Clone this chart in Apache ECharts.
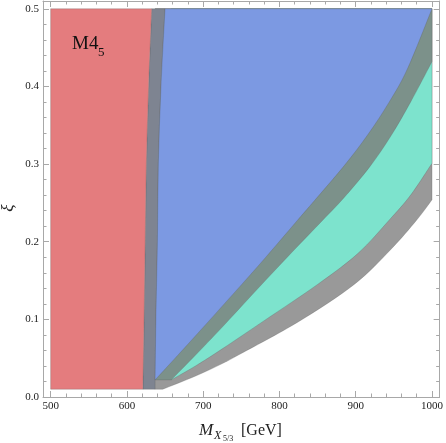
<!DOCTYPE html>
<html>
<head>
<meta charset="utf-8">
<script src="https://cdn.jsdelivr.net/npm/echarts@6/dist/echarts.min.js"></script>
<style>
  html, body { margin: 0; padding: 0; background: #fff; }
  #chart { width: 446px; height: 443px; }
</style>
</head>
<body>
<div id="chart"></div>
<script>
// tick positions
const xMajor = [500, 600, 700, 800, 900, 1000]
const xMinor = [520, 540, 560, 580, 620, 640, 660, 680, 720, 740, 760, 780, 820, 840, 860, 880, 920, 940, 960, 980]
const yMajor = [0, 0.1, 0.2, 0.3, 0.4, 0.5]
const yMinor = [0.02, 0.04, 0.06, 0.08, 0.12, 0.14, 0.16, 0.18, 0.22, 0.24, 0.26, 0.28, 0.32, 0.34, 0.36, 0.38, 0.42, 0.44, 0.46, 0.48]

// region boundaries, [M (GeV), xi]
const redEdge = [[621, 0.01], [622.5, 0.1], [624, 0.2], [625.5, 0.3], [628.5, 0.4], [632.5, 0.5]]
const blueLeft = [[637, 0.022], [638, 0.1], [640, 0.2], [641.2, 0.3], [644.7, 0.4], [650, 0.5]]
const blueRight = [[637, 0.022], [680, 0.068], [725, 0.117], [775, 0.172], [824, 0.228], [846, 0.253], [885, 0.298], [916, 0.338], [944, 0.38], [968, 0.423], [1000, 0.5]]
const cyanTop = [[658, 0.022], [690, 0.054], [725, 0.09], [772, 0.14], [816, 0.186], [857, 0.228], [884, 0.256], [918, 0.296], [946, 0.336], [972, 0.38], [1000, 0.432]]
const cyanBottom = [[658, 0.022], [690, 0.04], [725, 0.062], [781, 0.099], [850, 0.145], [903, 0.185], [944, 0.228], [972, 0.26], [1000, 0.301]]
const grayBottom = [[647, 0.01], [690, 0.027], [725, 0.043], [746, 0.054], [825, 0.097], [898, 0.145], [946, 0.19], [980, 0.228], [1000, 0.254]]

const rev = (a) => a.slice().reverse()
const S = (pts) => ({ pts, smooth: true })
const L = (pts) => ({ pts, smooth: false })

const regions = [
  { name: 'gray', color: '#999999', segs: [L([[637, 0.01]]), S(grayBottom), L([[1000, 0.5], [637, 0.5]])] },
  { name: 'cyan', color: '#7de3cd', segs: [S(cyanBottom), L([[1000, 0.5], [658, 0.5]])] },
  { name: 'green', color: '#7c918a', segs: [L([[637, 0.022]]), S(cyanTop), L([[1000, 0.5], [637, 0.5]])] },
  { name: 'slate', color: '#7e8491', segs: [L([[621, 0.01], [637, 0.01]]), S(blueLeft), S(rev(redEdge))] },
  { name: 'blue', color: '#7c99e2', segs: [S(blueRight), S(rev(blueLeft))] },
  { name: 'red', color: '#e47c7e', segs: [L([[500, 0.01]]), S(redEdge), L([[500, 0.5]])] }
]

// path through pixel points; smooth runs get catmull-rom curves
function buildPath(segs, api) {
  let d = ''
  segs.forEach((seg) => {
    const p = seg.pts.map((v) => api.coord(v))
    p.forEach((pt, i) => {
      if (d === '') {
        d = 'M' + pt[0] + ' ' + pt[1]
      } else if (!seg.smooth || i === 0) {
        d += 'L' + pt[0] + ' ' + pt[1]
      } else {
        const p0 = p[Math.max(i - 2, 0)]
        const p1 = p[i - 1]
        const p3 = p[Math.min(i + 1, p.length - 1)]
        const c1 = [p1[0] + (pt[0] - p0[0]) / 6, p1[1] + (pt[1] - p0[1]) / 6]
        const c2 = [pt[0] - (p3[0] - p1[0]) / 6, pt[1] - (p3[1] - p1[1]) / 6]
        d += 'C' + c1[0] + ' ' + c1[1] + ' ' + c2[0] + ' ' + c2[1] + ' ' + pt[0] + ' ' + pt[1]
      }
    })
  })
  return d + 'Z'
}

const myChart = echarts.init(document.getElementById('chart'))

const frameColor = '#a8a8a8'
const labelFont = { color: '#222', fontFamily: 'Liberation Serif', fontSize: 11 }

function xAxisOf(position, values, len, line, label) {
  return {
    type: 'value',
    position: position,
    min: 490,
    max: 1010,
    splitLine: { show: false },
    axisLine: { show: line, onZero: false, lineStyle: { color: frameColor, width: 1 } },
    axisTick: { show: true, inside: true, length: len, customValues: values, lineStyle: { color: frameColor } },
    axisLabel: Object.assign({ show: label, margin: 4, customValues: xMajor, formatter: (v) => String(v) }, labelFont)
  }
}
function yAxisOf(position, values, len, line, label) {
  return {
    type: 'value',
    position: position,
    min: 0,
    max: 0.51,
    splitLine: { show: false },
    axisLine: { show: line, onZero: false, lineStyle: { color: frameColor, width: 1 } },
    axisTick: { show: true, inside: true, length: len, customValues: values, lineStyle: { color: frameColor } },
    axisLabel: Object.assign({ show: label, margin: 4, customValues: yMajor, formatter: (v) => v.toFixed(1) }, labelFont)
  }
}

const series = regions.map((r) => {
  return {
    type: 'custom',
    name: r.name,
    silent: true,
    clip: true,
    data: [r.segs[0].pts[0]],
    renderItem: (params, api) => {
      return {
        type: 'path',
        shape: { pathData: buildPath(r.segs, api) },
        style: { fill: r.color, stroke: 'rgba(90,90,90,0.35)', lineWidth: 0.8 }
      }
    }
  }
})

const option = {
  animation: false,
  grid: { left: 43, top: 1, width: 399, height: 396 },
  xAxis: [
    xAxisOf('bottom', xMajor, 6, true, true),
    xAxisOf('bottom', xMinor, 3.5, false, false),
    xAxisOf('top', xMajor, 6, true, false),
    xAxisOf('top', xMinor, 3.5, false, false)
  ],
  yAxis: [
    yAxisOf('left', yMajor, 6, true, true),
    yAxisOf('left', yMinor, 3.5, false, false),
    yAxisOf('right', yMajor, 6, true, false),
    yAxisOf('right', yMinor, 3.5, false, false)
  ],
  graphic: [
    { type: 'text', z: 100, left: 72, top: 35, style: { text: 'M4', font: '19px "Liberation Serif"', fill: '#111' } },
    { type: 'text', z: 100, left: 98, top: 46, style: { text: '5', font: '13px "Liberation Serif"', fill: '#111' } },
    { type: 'text', z: 100, x: 199, y: 431, style: { text: 'M', font: 'italic 17px "Liberation Serif"', fill: '#222', verticalAlign: 'middle' } },
    { type: 'text', z: 100, x: 214, y: 436, style: { text: 'X', font: 'italic 12px "Liberation Serif"', fill: '#222', verticalAlign: 'middle' } },
    { type: 'text', z: 100, x: 223, y: 439, style: { text: '5/3', font: '8px "Liberation Serif"', fill: '#222', verticalAlign: 'middle' } },
    { type: 'text', z: 100, x: 241, y: 431, style: { text: '[GeV]', font: '16px "Liberation Serif"', fill: '#222', verticalAlign: 'middle' } },
    { type: 'text', z: 100, x: 9, y: 208, rotation: Math.PI / 2, style: { text: 'ξ', font: 'italic 17px "Liberation Serif"', fill: '#222', align: 'center', verticalAlign: 'middle' } }
  ],
  series
}
myChart.setOption(option)
</script>
</body>
</html>
